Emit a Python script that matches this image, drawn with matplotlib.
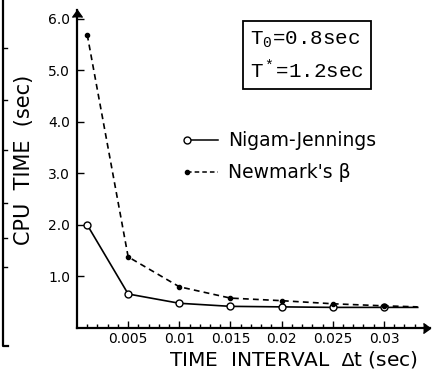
import matplotlib.pyplot as plt
import numpy as np
from matplotlib.lines import Line2D

plt.rcParams['mathtext.fontset'] = 'custom'
plt.rcParams['mathtext.rm'] = 'Liberation Mono'
plt.rcParams['mathtext.it'] = 'Liberation Mono'

# time interval (sec) and cpu time (sec)
dt = [0.001, 0.005, 0.01, 0.015, 0.02, 0.025, 0.03, 0.0333]
nigam = [2.0, 0.66, 0.48, 0.42, 0.41, 0.40, 0.40, 0.40]
newmark = [5.69, 1.38, 0.80, 0.58, 0.53, 0.47, 0.43, 0.41]

xticks = [0.005, 0.01, 0.015, 0.02, 0.025, 0.03]
xticklabels = ['0.005', '0.01', '0.015', '0.02', '0.025', '0.03']
yticks = [1, 2, 3, 4, 5, 6]
yticklabels = ['1.0', '2.0', '3.0', '4.0', '5.0', '6.0']

fig = plt.figure(figsize=(4.4, 3.73), dpi=100)
ax = fig.add_axes([77/440, 45/373, 353/440, 318/373])

ax.plot(dt, nigam, '-', color='black', lw=1.2, marker='o', ms=5,
        mfc='white', mew=1.0, markevery=list(range(len(dt) - 1)))
ax.plot(dt, newmark, color='black', lw=1.2, ls=(0, (3.5, 2.5)), marker='o',
        ms=3, markevery=list(range(len(dt) - 1)))

ax.set_xlim(0, 0.0345)
ax.set_ylim(0, 6.17)
for s in ['top', 'right']:
    ax.spines[s].set_visible(False)
for s in ['left', 'bottom']:
    ax.spines[s].set_linewidth(1.6)

ax.set_xticks(xticks)
ax.set_xticklabels(xticklabels, fontsize=10)
ax.set_xticks(np.arange(0.001, 0.0345, 0.001), minor=True)
ax.set_yticks(yticks)
ax.set_yticklabels(yticklabels, fontsize=10)
ax.tick_params(axis='both', which='major', direction='in', length=5, width=1, pad=5)
ax.tick_params(axis='x', which='major', pad=3)
ax.tick_params(axis='x', which='minor', direction='in', length=3, width=1)

# arrow heads on axes
ax.plot(1, 0, marker=5, color='black', ms=7, transform=ax.transAxes, clip_on=False)
ax.plot(0, 1, marker=6, color='black', ms=7, transform=ax.transAxes, clip_on=False)

fig.text(293/440, 13/373, r'TIME  INTERVAL  $\Delta$t (sec)', fontsize=14.5,
         ha='center', va='center')
fig.text(24/440, 1 - 160/373, 'CPU  TIME  (sec)', fontsize=15,
         rotation=90, ha='center', va='center')

# parameter box
ax.text(0.49, 0.855, 'T$_0$=0.8sec\nT$^*$=1.2sec', transform=ax.transAxes,
        family='Liberation Mono', fontsize=15, ha='left', va='center',
        linespacing=1.45,
        bbox=dict(boxstyle='square,pad=0.35', fc='white', ec='black', lw=1.3))

# legend drawn by hand
for yy, ls, mfc, ms, lab in [(140, '-', 'white', 5, 'Nigam-Jennings'),
                             (172, (0, (3, 2)), 'black', 3, "Newmark's \u03b2")]:
    fy = 1 - yy/373
    fig.add_artist(Line2D([187/440, 218/440], [fy, fy], color='black', lw=1.1, ls=ls))
    fig.add_artist(Line2D([187/440], [fy], marker='o', ms=ms, mfc=mfc, color='black', mew=1.0))
    fig.text(228/440, fy, lab, fontsize=13.5, ha='left', va='center')

# fragment of neighbouring figure at left edge
fig.add_artist(Line2D([3/440, 3/440, 8/440], [1, 1 - 346/373, 1 - 346/373], color='black', lw=1.6))
for yy in [48, 100, 150, 203, 238, 267]:
    fig.add_artist(Line2D([3/440, 7/440], [1 - yy/373, 1 - yy/373], color='black', lw=1.0))

fig.savefig('out.png', dpi=100)
